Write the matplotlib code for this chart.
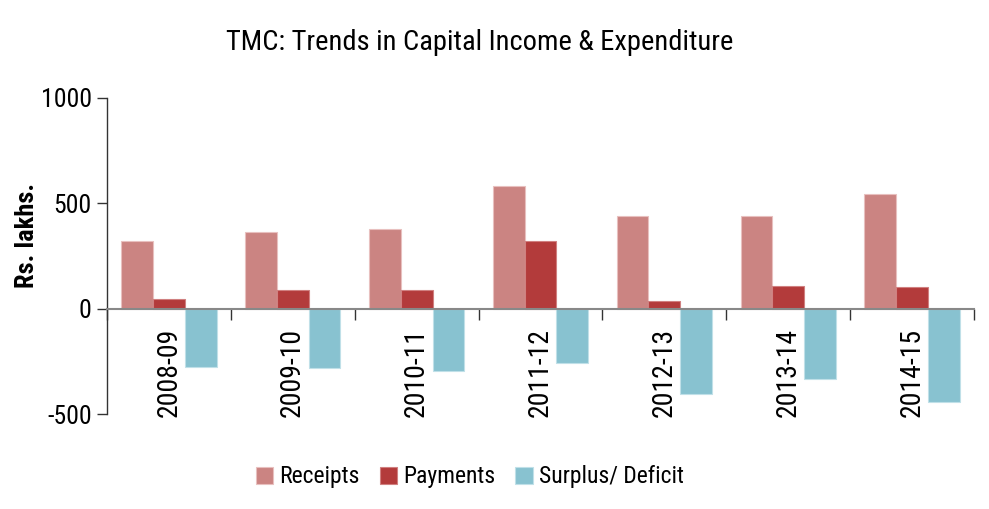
import matplotlib
matplotlib.use("Agg")
import matplotlib.pyplot as plt
from matplotlib import font_manager
import numpy as np

years = ["2008-09", "2009-10", "2010-11", "2011-12", "2012-13", "2013-14", "2014-15"]
receipts = [319, 366, 380, 580, 442, 440, 544]
payments = [46, 88, 88, 321, 39, 108, 104]
surplus = [-274, -280, -294, -259, -404, -333, -442]
series_names = ["Receipts", "Payments", "Surplus/ Deficit"]
colors = ["#CB8482", "#B33B3B", "#88C2D0"]
edge_colors = ["#E8C0BF", "#D08080", "#C0E0E8"]
yticks = [-500, 0, 500, 1000]

names = {f.name for f in font_manager.fontManager.ttflist}
family = "DejaVu Sans"
for cand in ["Liberation Sans Narrow", "Roboto Condensed", "Open Sans Condensed", "Lato", "Open Sans"]:
    if cand in names:
        family = cand
        break
plt.rcParams["font.family"] = [family, "DejaVu Sans"]

fig = plt.figure(figsize=(9.89, 5.09), dpi=100)
ax = fig.add_axes([0.108, 0.186, 0.877, 0.622])

x = np.arange(len(years))
w = 0.257
for i, (vals, c, ec, nm) in enumerate(zip([receipts, payments, surplus], colors, edge_colors, series_names)):
    ax.bar(x + (i - 1) * w, vals, width=w, color=c, edgecolor=ec, linewidth=0.8, label=nm, zorder=2)

ax.set_xlim(-0.5, len(years) - 0.5)
ax.set_ylim(-500, 1000)
ax.set_yticks(yticks)
ax.set_yticklabels([str(v) for v in yticks], fontsize=18.5)
ax.tick_params(axis="y", length=7, width=1, direction="out", pad=4, color="#333333")

# x axis at zero
ax.spines["bottom"].set_position(("data", 0))
ax.spines["bottom"].set_color("#888888")
ax.spines["bottom"].set_linewidth(1.5)
ax.spines["bottom"].set_zorder(3)
ax.spines["top"].set_visible(False)
ax.spines["right"].set_visible(False)
ax.spines["left"].set_color("#333333")
ax.spines["left"].set_linewidth(1)

ax.set_xticks(np.arange(len(years) + 1) - 0.5, minor=False)
ax.set_xticklabels([])
ax.set_xticks(x, minor=True)
ax.set_xticklabels(years, minor=True, rotation=90, fontsize=20)
ax.tick_params(axis="x", which="major", length=8, width=1, direction="out", color="#333333")
ax.tick_params(axis="x", which="minor", length=0, pad=14)

ax.set_ylabel("Rs. lakhs.", fontsize=19, fontweight="bold")
ax.yaxis.set_label_coords(-0.078, 0.566)

fig.suptitle("TMC: Trends in Capital Income & Expenditure", fontsize=20.5, fontweight="normal",
             y=0.943, x=0.485)

leg = fig.legend(loc="center", bbox_to_anchor=(0.475, 0.063), ncol=3, frameon=False,
                 fontsize=17, handlelength=0.75, handleheight=0.75, handletextpad=0.25,
                 columnspacing=0.85)

fig.savefig("out.png", dpi=100)
